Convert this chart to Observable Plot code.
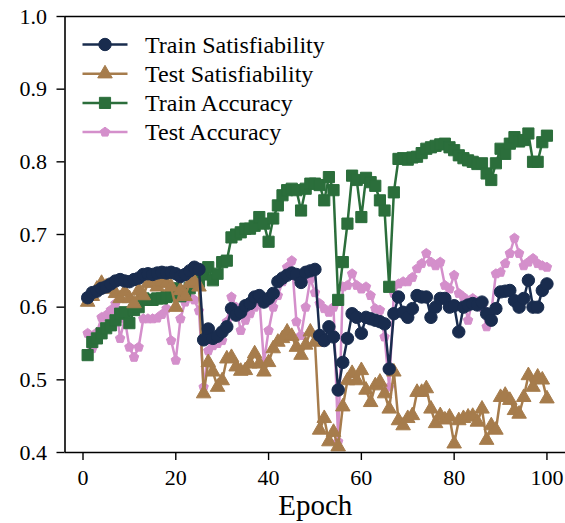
<!DOCTYPE html>
<html><head><meta charset="utf-8">
<script src="https://cdn.jsdelivr.net/npm/d3@7"></script>
<script src="https://cdn.jsdelivr.net/npm/@observablehq/plot@0.6"></script>
<style>
html,body{margin:0;padding:0;background:#fff;overflow:hidden}
#wrap{position:relative;width:565px;height:523px}
#legend{position:absolute;left:0;top:0;pointer-events:none}
</style></head><body><div id="wrap"></div>
<script>
const epochs = d3.range(1, 101);
const trainSat = [
.613,.620,.622,.626,.628,.632,.636,.638,.636,.635,
.638,.640,.645,.646,.645,.647,.648,.647,.648,.646,
.642,.645,.650,.655,.652,.555,.570,.557,.560,.566,
.573,.598,.589,.593,.602,.605,.614,.616,.607,.612,
.619,.635,.640,.644,.647,.645,.634,.648,.650,.652,
.561,.554,.573,.559,.486,.524,.557,.591,.586,.564,
.586,.584,.582,.580,.577,.515,.591,.614,.593,.586,
.598,.616,.614,.614,.586,.600,.612,.612,.600,.602,
.566,.600,.603,.605,.603,.607,.591,.582,.598,.621,
.622,.623,.609,.600,.612,.637,.600,.600,.623,.632];
const testSat = [
.607,.615,.625,.633,.628,.625,.619,.612,.621,.612,
.605,.623,.616,.633,.635,.628,.635,.633,.628,.600,
.623,.615,.633,.635,.628,.481,.524,.511,.490,.499,
.529,.531,.518,.512,.513,.522,.536,.522,.511,.524,
.543,.552,.557,.566,.560,.545,.534,.548,.566,.552,
.431,.447,.415,.428,.408,.463,.499,.509,.499,.513,
.486,.469,.492,.497,.481,.460,.511,.444,.437,.447,
.451,.483,.483,.488,.460,.440,.451,.445,.449,.412,
.444,.447,.449,.450,.442,.460,.417,.437,.431,.476,
.479,.472,.458,.453,.476,.506,.490,.504,.500,.474];
const trainAcc = [
.534,.552,.557,.564,.571,.575,.582,.591,.593,.578,
.596,.600,.612,.610,.610,.612,.612,.614,.616,.626,
.615,.622,.626,.637,.635,.645,.655,.637,.646,.662,
.664,.696,.700,.703,.708,.708,.712,.724,.715,.690,
.722,.740,.754,.761,.763,.761,.733,.763,.770,.770,
.768,.747,.779,.761,.610,.662,.715,.781,.775,.724,
.778,.772,.767,.747,.733,.628,.758,.804,.805,.803,
.806,.807,.812,.818,.820,.822,.824,.825,.820,.816,
.809,.805,.802,.800,.797,.798,.784,.775,.798,.818,
.811,.825,.834,.828,.830,.839,.800,.800,.827,.836];
const testAcc = [
.564,.543,.565,.586,.589,.596,.605,.557,.584,.545,
.531,.545,.584,.584,.584,.585,.590,.598,.554,.527,
.584,.607,.614,.610,.595,.490,.540,.547,.550,.554,
.580,.614,.600,.568,.582,.591,.600,.612,.524,.568,
.600,.616,.635,.655,.664,.580,.561,.600,.639,.620,
.605,.598,.593,.600,.415,.628,.630,.646,.630,.625,
.628,.616,.598,.596,.559,.490,.619,.632,.635,.635,
.641,.653,.660,.674,.662,.657,.662,.630,.625,.644,
.619,.614,.582,.612,.607,.600,.573,.593,.646,.648,
.660,.674,.695,.674,.657,.662,.667,.660,.657,.655];

const seriesNames = ["Train Satisfiability", "Test Satisfiability", "Train Accuracy", "Test Accuracy"];
const seriesValues = [trainSat, testSat, trainAcc, testAcc];
const colors = ["#192c4e", "#a67c4c", "#2b6e3b", "#d48fcb"];
const xTicks = [0, 20, 40, 60, 80, 100];
const yTicks = [0.4, 0.5, 0.6, 0.7, 0.8, 0.9, 1.0];
const xLabel = "Epoch";

const pentagon = {
  draw(context, size) {
    const R = Math.sqrt(size / (2.5 * Math.sin(2 * Math.PI / 5)));
    for (let i = 0; i < 5; i++) {
      const a = -Math.PI / 2 + i * 2 * Math.PI / 5;
      const px = R * Math.cos(a), py = R * Math.sin(a);
      if (i) context.lineTo(px, py); else context.moveTo(px, py);
    }
    context.closePath();
  }
};
const symbols = [d3.symbolCircle, d3.symbolTriangle, d3.symbolSquare, pentagon];
const radii = [6.2, 5.4, 6.3, 4.3];

const xDomain = [-3.88, 104];
const font = "'Liberation Serif', 'Times New Roman', serif";

const tables = seriesValues.map((vals, k) => epochs.map((e, i) => ({epoch: e, value: vals[i], series: seriesNames[k]})));

const drawOrder = [3, 2, 1, 0];
const marks = [];
for (const k of drawOrder) {
  marks.push(Plot.line(tables[k], {x: "epoch", y: "value", stroke: colors[k], strokeWidth: 2.5, clip: true}));
  marks.push(Plot.dot(tables[k], {x: "epoch", y: "value", r: radii[k], symbol: symbols[k], fill: colors[k], stroke: colors[k], strokeWidth: 1, clip: true}));
}
marks.push(Plot.ruleY([0.4, 1.0], {stroke: "black", strokeWidth: 1.6}));
marks.push(Plot.ruleX([xDomain[0]], {stroke: "black", strokeWidth: 1.6}));
marks.push(Plot.axisX(xTicks, {tickSize: 8, tickPadding: 9, fontSize: 22, strokeWidth: 1.4, label: null, tickFormat: d => String(d)}));
marks.push(Plot.axisY(yTicks, {tickSize: 8, tickPadding: 10, fontSize: 22, strokeWidth: 1.4, label: null, tickFormat: d3.format(".1f")}));
marks.push(Plot.text([xLabel], {frameAnchor: "bottom", dy: 62, fontSize: 29, text: d => d}));

const chart = Plot.plot({
  width: 565,
  height: 523,
  marginLeft: 64.5,
  marginRight: 0,
  marginTop: 16,
  marginBottom: 71,
  x: {domain: xDomain, axis: null},
  y: {domain: [0.4, 1.0], axis: null},
  style: {fontFamily: font, fontSize: "22px", background: "white", color: "black", overflow: "visible"},
  marks
});
const wrap = document.getElementById("wrap");
wrap.appendChild(chart);

// legend overlay
const leg = d3.select(wrap).append("svg").attr("id", "legend").attr("width", 565).attr("height", 160);
seriesNames.forEach((name, k) => {
  const cy = 44.5 + 29.2 * k;
  const g = leg.append("g");
  g.append("line").attr("x1", 82.5).attr("x2", 127.5).attr("y1", cy).attr("y2", cy).attr("stroke", colors[k]).attr("stroke-width", 2.5);
  g.append("path").attr("transform", `translate(105,${cy})`).attr("d", d3.symbol(symbols[k], Math.PI * radii[k] * radii[k])())
    .attr("fill", colors[k]).attr("stroke", colors[k]).attr("stroke-width", 1);
  g.append("text").attr("x", 145).attr("y", cy).attr("dy", "0.34em").attr("font-family", font).attr("font-size", 24).attr("fill", "black").text(name);
});
</script></body></html>
